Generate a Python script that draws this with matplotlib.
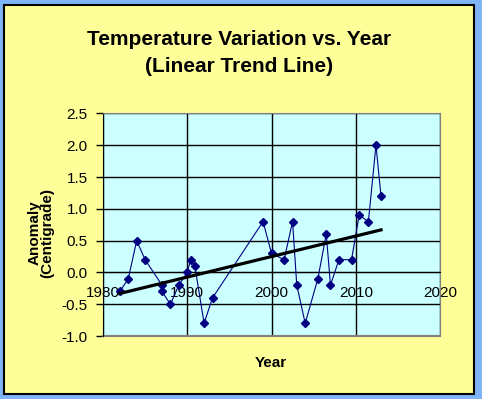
import numpy as np
import matplotlib.pyplot as plt
from matplotlib.patches import Rectangle

# datos
anios = [1982, 1983, 1984, 1985, 1987, 1987, 1988, 1989, 1990, 1990.4, 1990.9,
         1992, 1993, 1999, 2000, 2001.5, 2002.5, 2003, 2004, 2005.5, 2006.5,
         2007, 2008, 2009.5, 2010.4, 2011.5, 2012.4, 2013]
anomalia = [-0.3, -0.1, 0.5, 0.2, -0.2, -0.3, -0.5, -0.2, 0.0, 0.2, 0.1,
            -0.8, -0.4, 0.8, 0.3, 0.2, 0.8, -0.2, -0.8, -0.1, 0.6,
            -0.2, 0.2, 0.2, 0.9, 0.8, 2.0, 1.2]
x_ticks = [1980, 1990, 2000, 2010, 2020]
y_ticks = [-1.0, -0.5, 0.0, 0.5, 1.0, 1.5, 2.0, 2.5]

plt.rcParams['font.family'] = ['Liberation Sans', 'DejaVu Sans']

fig = plt.figure(figsize=(4.82, 3.99), dpi=100)
fig.patch.set_facecolor('#7FB4F8')

# panel amarillo con borde negro
fig.patches.append(Rectangle((4 / 482, 1 - 394 / 399), 470 / 482, 389 / 399,
                             transform=fig.transFigure, facecolor='#FFFF99',
                             edgecolor='black', linewidth=1.5, zorder=-1))

ax = fig.add_axes([103 / 482, 1 - 336 / 399, 337 / 482, 222.5 / 399])
ax.set_zorder(1)
ax.set_facecolor('#CCFFFF')

ax.plot(anios, anomalia, color='#000080', linewidth=0.8, marker='D',
        markersize=4.3, markerfacecolor='#000080', markeredgecolor='#000080', zorder=3)

# linea de tendencia lineal
coef = np.polyfit(anios, anomalia, 1)
xt = np.array([anios[0], anios[-1]])
ax.plot(xt, np.polyval(coef, xt), color='black', linewidth=2.3, zorder=4)

ax.set_xlim(1980, 2020)
ax.set_ylim(-1.0, 2.5)
ax.set_xticks(x_ticks)
ax.set_yticks(y_ticks)
ax.set_yticklabels([f"{v:.1f}" for v in y_ticks])
ax.grid(True, color='black', linewidth=1)
ax.set_axisbelow(True)

# eje x cruza en 0 como en Excel
ax.spines['bottom'].set_position(('data', 0))
ax.spines['bottom'].set_color('black')
ax.spines['left'].set_color('black')
for s in ['top', 'right']:
    ax.spines[s].set_color('#808080')
ax.axhline(-1.0, color='#808080', linewidth=1.5, clip_on=False)

ax.tick_params(axis='x', length=0, pad=10, labelsize=11)
ax.tick_params(axis='y', length=5, width=1, pad=6, labelsize=11, direction='out')

fig.text(239 / 482, 1 - 53 / 399, 'Temperature Variation vs. Year\n(Linear Trend Line)',
         ha='center', va='center', fontsize=15, fontweight='bold', linespacing=1.55)
fig.text(41 / 482, 1 - 233 / 399, 'Anomaly\n(Centigrade)', rotation=90,
         ha='center', va='center', fontsize=11, fontweight='bold', linespacing=0.95)
fig.text(271 / 482, 1 - 363 / 399, 'Year', ha='center', va='center',
         fontsize=11, fontweight='bold')

plt.savefig('out.png', dpi=100, facecolor=fig.get_facecolor())
